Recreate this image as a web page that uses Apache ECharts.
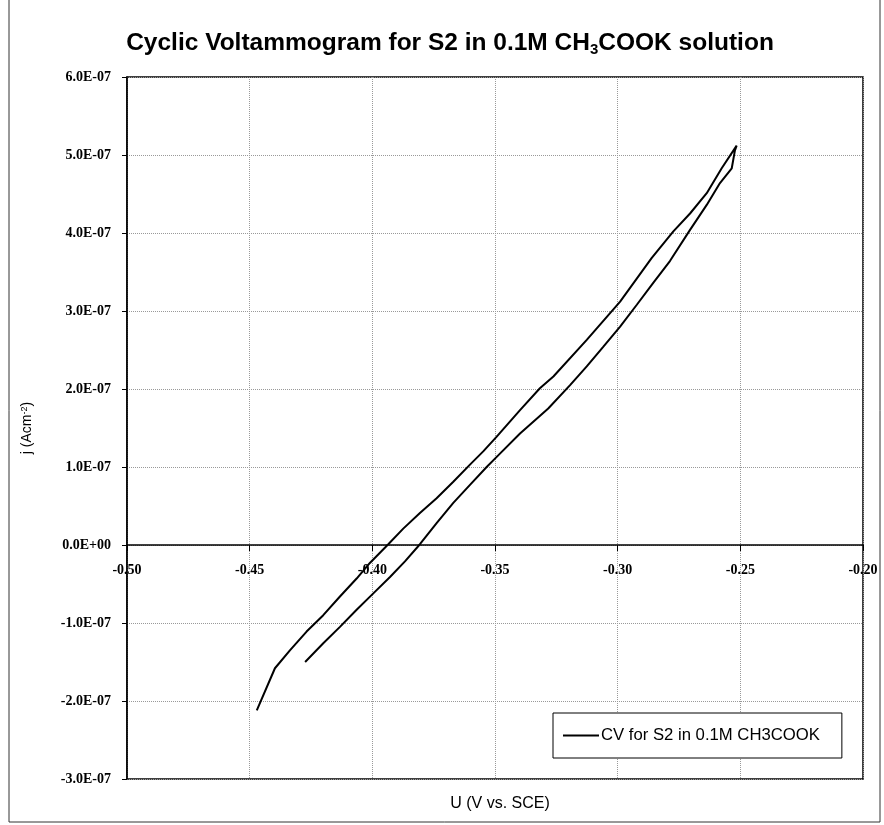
<!DOCTYPE html>
<html>
<head>
<meta charset="utf-8">
<script src="https://cdn.jsdelivr.net/npm/echarts@6/dist/echarts.min.js"></script>
<style>
  html, body { margin: 0; padding: 0; background: #fff; }
  #chart { width: 884px; height: 825px; }
</style>
</head>
<body>
<div id="chart"></div>
<script>
// Forward sweep (lower branch): potential U (V vs. SCE) and current density j (A cm^-2)
const forwardU = [-0.4274, -0.4200, -0.4132, -0.4064, -0.3996, -0.3928, -0.3867, -0.3806, -0.3738, -0.3670,
  -0.3602, -0.3534, -0.3493, -0.3398, -0.3283, -0.3194, -0.3126, -0.3059, -0.2990, -0.2922,
  -0.2855, -0.2787, -0.2705, -0.2637, -0.2583, -0.2535, -0.2522, -0.2515];
const forwardJ = [-1.50e-7, -1.26e-7, -1.05e-7, -0.83e-7, -0.62e-7, -0.41e-7, -0.21e-7, 0.01e-7, 0.28e-7, 0.54e-7,
  0.77e-7, 1.00e-7, 1.13e-7, 1.43e-7, 1.75e-7, 2.05e-7, 2.29e-7, 2.54e-7, 2.80e-7, 3.08e-7,
  3.36e-7, 3.64e-7, 4.04e-7, 4.36e-7, 4.64e-7, 4.83e-7, 5.06e-7, 5.12e-7];
// Reverse sweep (upper branch)
const reverseU = [-0.2576, -0.2637, -0.2705, -0.2773, -0.2861, -0.2990, -0.3126, -0.3262, -0.3317, -0.3398,
  -0.3493, -0.3548, -0.3602, -0.3670, -0.3738, -0.3806, -0.3874, -0.3935, -0.4010, -0.4064,
  -0.4132, -0.4200, -0.4268, -0.4336, -0.4397, -0.4471];
const reverseJ = [4.83e-7, 4.51e-7, 4.25e-7, 4.02e-7, 3.68e-7, 3.12e-7, 2.63e-7, 2.16e-7, 2.01e-7, 1.73e-7,
  1.39e-7, 1.20e-7, 1.03e-7, 0.81e-7, 0.60e-7, 0.41e-7, 0.21e-7, 0.01e-7, -0.23e-7, -0.43e-7,
  -0.66e-7, -0.90e-7, -1.11e-7, -1.35e-7, -1.58e-7, -2.12e-7];

const seriesName = 'CV for S2 in 0.1M CH3COOK';
const xTicks = { min: -0.50, max: -0.20, step: 0.05 };
const yTicks = { min: -3e-7, max: 6e-7, step: 1e-7 };

const cvData = forwardU.map((u, i) => [u, forwardJ[i]])
  .concat(reverseU.map((u, i) => [u, reverseJ[i]]));

function sci(v) {
  if (Math.abs(v) < 1e-15) return '0.0E+00';
  const e = Math.floor(Math.log10(Math.abs(v)) + 1e-9);
  const m = v / Math.pow(10, e);
  return m.toFixed(1) + 'E' + (e < 0 ? '-' : '+') + String(Math.abs(e)).padStart(2, '0');
}

const GRID = { left: 127, right: 21, top: 77, bottom: 46 };
const chart = echarts.init(document.getElementById('chart'));
const plotH = 825 - GRID.top - GRID.bottom;
// distance from grid bottom to the zero line, derived from the y scale
const zeroOffset = plotH * (0 - yTicks.min) / (yTicks.max - yTicks.min);
const plotCenterX = GRID.left + (884 - GRID.left - GRID.right) / 2;

chart.setOption({
  animation: false,
  backgroundColor: '#fff',
  title: [{
    text: 'Cyclic Voltammogram for S2 in 0.1M CH{sub|3}COOK solution',
    left: 445, textAlign: 'center',
    top: 24,
    textStyle: {
      fontFamily: 'Liberation Sans, Arial, sans-serif',
      fontSize: 24.5, fontWeight: 'bold', color: '#000',
      lineHeight: 28,
      rich: { sub: { fontSize: 15, fontWeight: 'bold', fontFamily: 'Liberation Sans', color: '#000', verticalAlign: 'bottom', lineHeight: 16, padding: [10, 0, 0, 0] } }
    }
  }, {
    text: 'U (V vs. SCE)',
    left: plotCenterX, textAlign: 'center',
    top: 791,
    textStyle: { fontFamily: 'Liberation Sans, Arial, sans-serif', fontSize: 16, fontWeight: 'normal', color: '#000' }
  }],
  graphic: [{
    type: 'rect',
    shape: { x: 9, y: -2, width: 871, height: 824 },
    style: { fill: null, stroke: '#333', lineWidth: 1 },
    silent: true, z: -1
  }],
  legend: {
    data: [seriesName],
    left: 553, top: 713,
    orient: 'vertical',
    backgroundColor: '#fff',
    borderColor: '#000', borderWidth: 1,
    padding: [14, 22, 14, 10],
    icon: 'rect',
    itemWidth: 36, itemHeight: 2, itemGap: 0,
    textStyle: { fontFamily: 'Liberation Sans, Arial, sans-serif', fontSize: 16.7, color: '#000', padding: [0, 0, 0, -3] }
  },
  grid: Object.assign({
    show: true, borderColor: '#000', borderWidth: 1.5, backgroundColor: 'transparent'
  }, GRID),
  xAxis: {
    type: 'value',
    min: xTicks.min, max: xTicks.max, interval: xTicks.step,
    offset: -zeroOffset,
    axisLine: { onZero: false, lineStyle: { color: '#000', width: 1.5 } },
    axisTick: { show: true, length: 6, lineStyle: { color: '#000' } },
    axisLabel: {
      margin: 18,
      fontFamily: 'Liberation Serif, Times New Roman, serif', fontSize: 14, fontWeight: 'bold', color: '#000',
      formatter: v => v.toFixed(2)
    },
    splitLine: { show: true, lineStyle: { color: '#999', type: 'dotted', width: 1 } }
  },
  yAxis: {
    type: 'value',
    min: yTicks.min, max: yTicks.max, interval: yTicks.step,
    name: 'j (Acm{sup|-2})',
    nameLocation: 'middle',
    nameGap: 92,
    nameRotate: 90,
    nameTextStyle: {
      fontFamily: 'Liberation Sans, Arial, sans-serif', fontSize: 14, color: '#000',
      rich: { sup: { fontSize: 9, fontFamily: 'Liberation Sans', color: '#000', verticalAlign: 'top', padding: [0, 0, 6, 0] } }
    },
    axisLine: { show: true, onZero: false, lineStyle: { color: '#000', width: 1.5 } },
    axisTick: { show: true, length: 5, lineStyle: { color: '#000' } },
    axisLabel: {
      margin: 16,
      fontFamily: 'Liberation Serif, Times New Roman, serif', fontSize: 14, fontWeight: 'bold', color: '#000',
      formatter: v => sci(v)
    },
    splitLine: { show: true, lineStyle: { color: '#999', type: 'dotted', width: 1 } }
  },
  series: [{
    name: seriesName,
    type: 'line',
    data: cvData,
    symbol: 'none',
    smooth: false,
    lineStyle: { color: '#000', width: 2 },
    itemStyle: { color: '#000' }
  }]
});
</script>
</body>
</html>
